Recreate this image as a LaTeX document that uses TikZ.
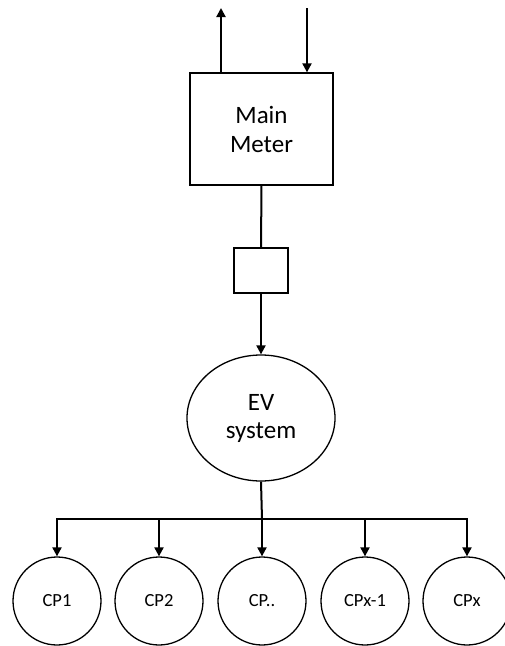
\documentclass[tikz,border=0pt]{standalone}
\usepackage{fontspec}
\setmainfont{Carlito}
\usetikzlibrary{arrows.meta,shapes.geometric}
\tikzset{
  meterbox/.style={draw, line width=1.3pt, minimum width=143pt, minimum height=112pt,
    align=center, font=\fontsize{25}{29}\selectfont},
  smallbox/.style={draw, line width=1.3pt, minimum width=54pt, minimum height=45pt},
  evnode/.style={draw, ellipse, line width=1.3pt, minimum width=148pt, minimum height=126pt,
    align=center, inner sep=0pt, font=\fontsize{25}{28}\selectfont},
  cpnode/.style={draw, circle, line width=1.3pt, minimum size=88pt, inner sep=0pt,
    font=\fontsize{18.5}{22}\selectfont},
  wire/.style={line width=2pt},
  flow/.style={-{Triangle[length=9pt,width=9pt]}, line width=2pt}
}
\begin{document}
\begin{tikzpicture}[x=1pt,y=-1pt]
  \useasboundingbox (0,0) rectangle (504,646);
  % meter, breaker and EV system
  \node[meterbox] (meter) at (261.5,129) {Main\\Meter};
  \node[smallbox] (breaker) at (261,270.5) {};
  \node[evnode] (ev) at (261,418) {EV\\system};
  \coordinate (gridout) at (221,8);
  \coordinate (gridin) at (307,8);
  \draw[flow] (meter.north -| gridout) -- (gridout);
  \draw[flow] (gridin) -- (meter.north -| gridin);
  \draw[wire] (meter.south) -- (breaker.north);
  \draw[flow] (breaker.south) -- (ev.north);

  % charge points
  \node[cpnode] (cp1) at (57,601) {CP1};
  \node[cpnode] (cp2) at (159,601) {CP2};
  \node[cpnode] (cp3) at (262,601) {CP..};
  \node[cpnode] (cp4) at (365,601) {CPx-1};
  \node[cpnode] (cp5) at (467,601) {CPx};
  \coordinate (split) at (262,519);
  \draw[wire] (ev.south) -- (split);
  \foreach \n in {1,...,5}
    \draw[flow] (split) -| (cp\n.north);
\end{tikzpicture}
\end{document}
